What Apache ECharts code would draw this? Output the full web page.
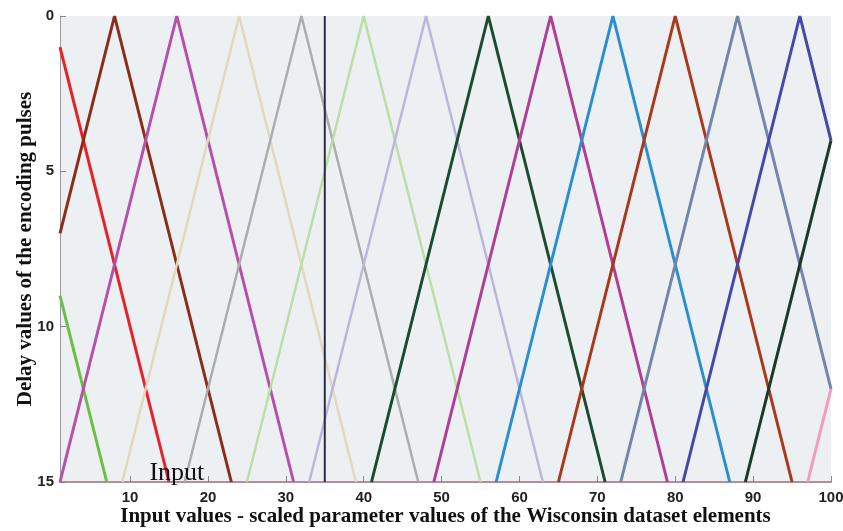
<!DOCTYPE html>
<html>
<head>
<meta charset="utf-8">
<title>Delay encoding of input values</title>
<script src="https://cdn.jsdelivr.net/npm/echarts@6/dist/echarts.min.js"></script>
<style>
  html, body { margin: 0; padding: 0; background: #ffffff; }
  #chart { width: 843px; height: 531px; }
</style>
</head>
<body>
<div id="chart"></div>
<script>
// Triangular receptive fields: each field is a polyline of [input value, delay] vertices.
const rfM8  = [[1, 9], [7, 15]];
const rf0   = [[1, 1], [15, 15]];
const rf8   = [[1, 7], [8, 0], [23, 15]];
const rf16  = [[1, 15], [16, 0], [31, 15]];
const rf24  = [[9, 15], [24, 0], [39, 15]];
const rf32  = [[17, 15], [32, 0], [47, 15]];
const rf40  = [[25, 15], [40, 0], [55, 15]];
const rf48  = [[33, 15], [48, 0], [63, 15]];
const rf56  = [[41, 15], [56, 0], [71, 15]];
const rf64  = [[49, 15], [64, 0], [79, 15]];
const rf72  = [[57, 15], [72, 0], [87, 15]];
const rf80  = [[65, 15], [80, 0], [95, 15]];
const rf88  = [[73, 15], [88, 0], [100, 12]];
const rf96  = [[81, 15], [96, 0], [100, 4]];
const rf104 = [[89, 15], [100, 4]];
const rf112 = [[97, 15], [100, 12]];

const fields = [rfM8, rf0, rf8, rf16, rf24, rf32, rf40, rf48, rf56, rf64, rf72, rf80, rf88, rf96, rf104, rf112];

// Input sample marker
const inputValue = 35;
const inputLine = [[35, 0], [35, 15]];
const inputLabelPos = [16, 15];

// Axis ranges and tick labels
const xTicks = [10, 20, 30, 40, 50, 60, 70, 80, 90, 100];
const yTicks = [0, 5, 10, 15];

const fieldColors = [
  '#6DBE45', '#E8202A', '#8C2D19', '#B650A8', '#E3D7BE', '#ACACAC',
  '#B9DFA5', '#BDB6DC', '#1E4B30', '#B03E92', '#2B8ED0', '#A8391B',
  '#7585A6', '#4548A6', '#1B3A25', '#F29BBE'
];
const fieldWidths = [3, 3, 3, 3, 2.5, 2.5, 2.5, 2.5, 3, 3, 3, 3, 3, 3, 3, 3];

const series = fields.map((pts, i) => ({
  type: 'line',
  data: pts,
  symbol: 'none',
  silent: true,
  lineStyle: { color: fieldColors[i], width: fieldWidths[i] },
  z: 2
}));

series.push({
  type: 'line',
  data: inputLine,
  symbol: 'none',
  silent: true,
  lineStyle: { color: '#2A2C48', width: 2 },
  z: 3,
  markPoint: {
    symbol: 'circle',
    symbolSize: 0,
    silent: true,
    data: [{ coord: inputLabelPos }],
    label: {
      show: true,
      formatter: 'Input',
      position: 'inside',
      offset: [0, -9],
      fontFamily: '"Liberation Serif", "Times New Roman", serif',
      fontSize: 26,
      color: '#111111'
    }
  }
});

const chart = echarts.init(document.getElementById('chart'), null, { renderer: 'canvas' });
chart.setOption({
  animation: false,
  backgroundColor: '#ffffff',
  grid: {
    left: 60, right: 12, top: 16, bottom: 49,
    outerBoundsMode: 'none',
    containLabel: false,
    show: true, backgroundColor: '#EDF0F3', borderWidth: 0
  },
  xAxis: {
    type: 'value',
    min: 1, max: 100,
    name: 'Input values - scaled parameter values of the Wisconsin dataset elements',
    nameLocation: 'middle',
    nameMoveOverlap: false,
    nameGap: 24,
    nameTextStyle: {
      fontFamily: '"Liberation Serif", "Times New Roman", serif',
      fontWeight: 'bold', fontSize: 21, color: '#111111'
    },
    axisLine: { show: true, onZero: false, lineStyle: { color: '#B48C9C', width: 2 } },
    axisTick: { show: true, inside: true, length: 6, customValues: xTicks, lineStyle: { color: '#888888' } },
    axisLabel: {
      customValues: xTicks, margin: 8,
      fontFamily: '"Liberation Sans", Arial, sans-serif',
      fontWeight: 'bold', fontSize: 15, color: '#222222'
    },
    splitLine: { show: false }
  },
  yAxis: {
    type: 'value',
    inverse: true,
    min: 0, max: 15, interval: 5,
    name: 'Delay values of the encoding pulses',
    nameLocation: 'middle',
    nameMoveOverlap: false,
    nameGap: 24,
    nameRotate: 90,
    nameTextStyle: {
      fontFamily: '"Liberation Serif", "Times New Roman", serif',
      fontWeight: 'bold', fontSize: 21, color: '#111111'
    },
    axisLine: { show: true, lineStyle: { color: '#9A9AA4', width: 1 } },
    axisTick: { show: true, inside: true, length: 6, lineStyle: { color: '#888888' } },
    axisLabel: {
      formatter: v => (yTicks.indexOf(v) >= 0 ? String(v) : ''),
      margin: 6,
      fontFamily: '"Liberation Sans", Arial, sans-serif',
      fontWeight: 'bold', fontSize: 15, color: '#222222'
    },
    splitLine: { show: false }
  },
  series: series
});
</script>
</body>
</html>
